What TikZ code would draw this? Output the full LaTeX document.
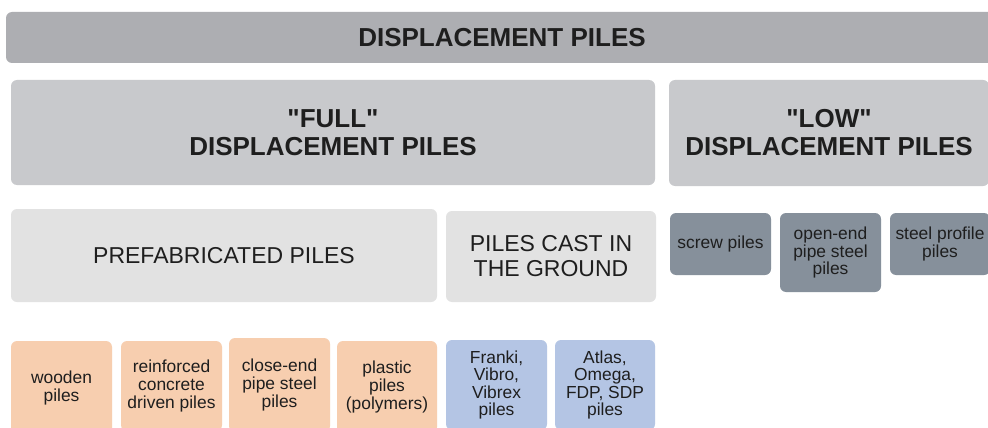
\documentclass[tikz,border=0pt]{standalone}
\usepackage{fontspec}
\setmainfont{Liberation Sans}
\newfontfamily\plainsans{Liberation Sans}
\definecolor{topgray}{RGB}{173,174,178}
\definecolor{midgray}{RGB}{200,201,204}
\definecolor{lightgray}{RGB}{226,226,226}
\definecolor{slate}{RGB}{134,144,155}
\definecolor{peach}{RGB}{247,206,175}
\definecolor{paleblue}{RGB}{180,197,228}
\definecolor{txtdark}{RGB}{30,30,30}
\begin{document}
\begin{tikzpicture}[x=1pt,y=-1pt,
  box/.style={draw=none, rounded corners=6pt, inner sep=0pt, align=center, text=txtdark},
  bighead/.style={font=\plainsans\bfseries\fontsize{26}{28}\selectfont},
  midhead/.style={font=\plainsans\fontsize{23}{25}\selectfont},
  small/.style={font=\plainsans\fontsize{17.4}{17.6}\selectfont}]
\clip (0,0) rectangle (988,428);
\fill[white] (0,0) rectangle (988,428);
% top bar
\node[box, bighead, fill=topgray, minimum width=992pt, minimum height=51pt] (top) at (502,37.5) {DISPLACEMENT PILES};
% second row
\node[box, bighead, fill=midgray, minimum width=644pt, minimum height=105pt] (full) at (333,132.5) {"FULL"\\DISPLACEMENT PILES};
\node[box, bighead, fill=midgray, minimum width=320pt, minimum height=106pt] (low) at (829,133) {"LOW"\\DISPLACEMENT PILES};
% third row
\node[box, midhead, fill=lightgray, minimum width=426pt, minimum height=93pt] (prefab) at (224,255.5) {PREFABRICATED PILES};
\node[box, midhead, fill=lightgray, minimum width=210pt, minimum height=91pt] (cast) at (551,256.5) {PILES CAST IN\\THE GROUND};
\node[box, small, fill=slate, minimum width=101pt, minimum height=62pt] (screw) at (720.5,244) {screw piles};
\node[box, small, fill=slate, minimum width=101pt, minimum height=79pt] (openend) at (830.5,252.5) {open-end\\pipe steel\\piles};
\node[box, small, fill=slate, minimum width=100pt, minimum height=62pt] (profile) at (940,244) {steel profile\\piles};
% bottom row
\node[box, small, fill=peach, minimum width=101pt, minimum height=94pt] (wooden) at (61.5,388) {wooden\\piles};
\node[box, small, fill=peach, minimum width=101pt, minimum height=90pt] (rc) at (171.5,386) {reinforced\\concrete\\driven piles};
\node[box, small, fill=peach, minimum width=101pt, minimum height=94pt] (closeend) at (279.5,385) {close-end\\pipe steel\\piles};
\node[box, small, fill=peach, minimum width=100pt, minimum height=92pt] (plastic) at (387,387) {plastic\\piles\\(polymers)};
\node[box, small, fill=paleblue, minimum width=101pt, minimum height=90pt] (franki) at (496.5,385) {Franki,\\Vibro,\\Vibrex\\piles};
\node[box, small, fill=paleblue, minimum width=100pt, minimum height=90pt] (atlas) at (605,385) {Atlas,\\Omega,\\FDP, SDP\\piles};
\end{tikzpicture}
\end{document}
